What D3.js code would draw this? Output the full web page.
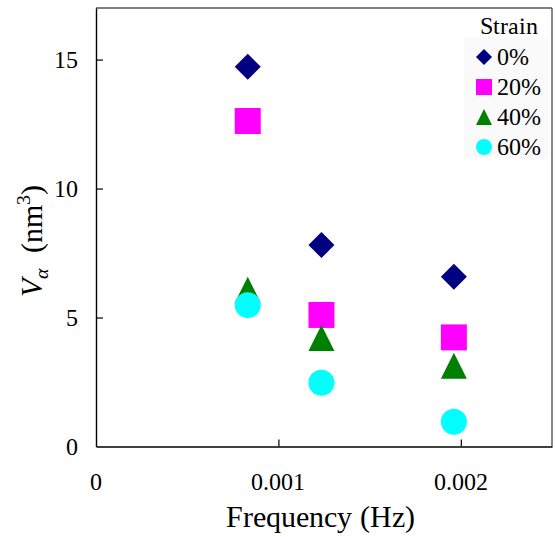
<!DOCTYPE html>
<html><head><meta charset="utf-8">
<script src="https://cdn.jsdelivr.net/npm/d3@7"></script>
<style>
@font-face { font-family: "ChartSerif"; src: local("Liberation Serif"), local("LiberationSerif"), local("Liberation Serif Regular"), local("LiberationSerif-Regular"); font-style: normal; }
@font-face { font-family: "ChartSerif"; src: local("Liberation Serif Italic"), local("LiberationSerif-Italic"); font-style: italic; }
body{margin:0;background:#fff;}
</style>
</head>
<body><svg id="c" width="555" height="537"></svg>
<script>
const freq = [0.000832, 0.001236, 0.001962];
const strains = ["0%", "20%", "40%", "60%"];
const v0 = [14.72, 7.81, 6.58];
const v20 = [12.62, 5.10, 4.23];
const v40 = [6.08, 4.21, 3.13];
const v60 = [5.48, 2.47, 0.96];
const xTicks = [0, 0.001, 0.002];
const xTickLabels = ["0", "0.001", "0.002"];
const yTicks = [0, 5, 10, 15];
const colors = ["#000080", "#ff00ff", "#008000", "#00ffff"];
const shapes = ["diamond", "square", "triangle", "circle"];
const seriesValues = [v0, v20, v40, v60];

const FONT = "ChartSerif, 'Liberation Serif', 'Times New Roman', serif";
const svg = d3.select("#c");
const L = 96, R = 552, T = 8, B = 446.5;
const x = d3.scaleLinear().domain([0, 0.0025]).range([L, R]);
const y = d3.scaleLinear().domain([0, 17]).range([B, T]);

function shapePath(shape, s) {
  const h = s / 2;
  if (shape === "diamond") return `M0,${-h}L${h},0L0,${h}L${-h},0Z`;
  if (shape === "square") return `M${-h},${-h}H${h}V${h}H${-h}Z`;
  if (shape === "triangle") return `M0,${-h}L${h},${h}L${-h},${h}Z`;
  return `M${h},0A${h},${h} 0 1,1 ${-h},0A${h},${h} 0 1,1 ${h},0Z`;
}

// frame
svg.append("line").attr("x1", L).attr("x2", R).attr("y1", T).attr("y2", T).attr("stroke", "#555").attr("stroke-width", 1.4);
svg.append("line").attr("x1", R).attr("x2", R).attr("y1", T).attr("y2", B).attr("stroke", "#555").attr("stroke-width", 1.4);

// axes
const xAxis = d3.axisBottom(x).tickValues(xTicks).tickSizeInner(-7).tickSizeOuter(0).tickPadding(0).tickFormat("");
const gx = svg.append("g").attr("transform", `translate(0,${B})`).call(xAxis);
gx.select(".domain").attr("stroke", "#000").attr("stroke-width", 1.4);
gx.selectAll(".tick line").attr("stroke", "#000").attr("stroke-width", 1.2);
gx.selectAll(".tick").filter(d => d === 0).select("line").remove();
svg.append("g").selectAll("text").data(xTicks).join("text")
  .attr("x", d => x(d)).attr("y", 490).attr("text-anchor", "middle")
  .attr("font-family", FONT).style("font-family", FONT).attr("font-size", 24).text((d, i) => xTickLabels[i]);

const yAxis = d3.axisLeft(y).tickValues(yTicks).tickSizeInner(-7).tickSizeOuter(0).tickPadding(0).tickFormat("");
const gy = svg.append("g").attr("transform", `translate(${L},0)`).call(yAxis);
gy.select(".domain").attr("stroke", "#000").attr("stroke-width", 1.4);
gy.selectAll(".tick line").attr("stroke", "#000").attr("stroke-width", 1.2);
gy.selectAll(".tick").filter(d => d === 0).select("line").remove();
svg.append("g").selectAll("text").data(yTicks).join("text")
  .attr("x", 78).attr("y", d => y(d) + 8.5).attr("text-anchor", "end")
  .attr("font-family", FONT).style("font-family", FONT).attr("font-size", 24).text(d => d);

// axis titles
svg.append("text").attr("x", 320).attr("y", 527).attr("text-anchor", "middle")
  .attr("font-family", FONT).style("font-family", FONT).attr("font-size", 30).text("Frequency (Hz)");
const yl = svg.append("text").attr("transform", "translate(42,241) rotate(-90)")
  .attr("text-anchor", "middle").attr("font-family", FONT).style("font-family", FONT).attr("font-size", 30);
yl.append("tspan").attr("font-style", "italic").text("V");
yl.append("tspan").attr("font-style", "italic").attr("font-size", 20).attr("dy", 6).text("α");
yl.append("tspan").attr("dy", -6).text("\u2002(nm");
yl.append("tspan").attr("font-size", 20).attr("dy", -12).text("3");
yl.append("tspan").attr("dy", 12).text(")");

// data
seriesValues.forEach((vals, si) => {
  svg.append("g").selectAll("path").data(vals).join("path")
    .attr("transform", (d, i) => `translate(${x(freq[i])},${y(d)})`)
    .attr("d", shapePath(shapes[si], 26))
    .attr("fill", colors[si]);
});

// legend
svg.append("rect").attr("x", 464).attr("y", 38).attr("width", 85).attr("height", 120).attr("fill", "#fafafa");
svg.append("text").attr("x", 509).attr("y", 34).attr("text-anchor", "middle")
  .attr("font-family", FONT).style("font-family", FONT).attr("font-size", 24).text("Strain");
const lg = svg.append("g").selectAll("g").data(strains).join("g")
  .attr("transform", (d, i) => `translate(484,${57 + i * 30})`);
lg.append("path").attr("d", (d, i) => shapePath(shapes[i], 16)).attr("fill", (d, i) => colors[i]);
lg.append("text").attr("x", 13).attr("y", 8).attr("font-family", FONT).style("font-family", FONT).attr("font-size", 24).text(d => d);
</script></body></html>
